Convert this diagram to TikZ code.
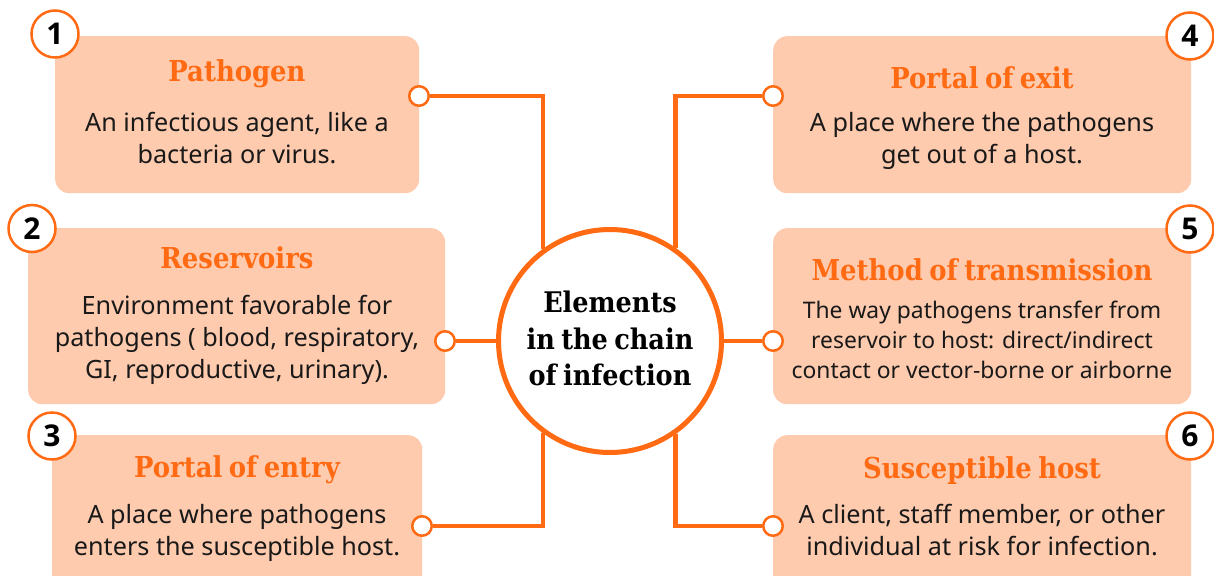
\documentclass[tikz,border=0pt]{standalone}
\usepackage{fontspec}
\setmainfont{Noto Sans}
\newfontfamily\slabfont[WordSpace=0.72]{DejaVu Serif Condensed}
\newfontfamily\numfont{Open Sans}
\definecolor{accent}{HTML}{FF6A13}
\definecolor{boxfill}{HTML}{FFCBAE}
\tikzset{
  card/.style={fill=boxfill,rounded corners=14pt,draw=none,inner sep=0pt,anchor=north west},
  head/.style={text=accent,font=\fontsize{28.8}{34}\selectfont\slabfont\bfseries,inner sep=0pt,anchor=center},
  body/.style={text=black!90,font=\fontsize{25.2}{32}\selectfont,align=center,inner sep=0pt,anchor=center},
  smallbody/.style={text=black!90,font=\fontsize{22.85}{30}\selectfont,align=center,inner sep=0pt,anchor=center},
  badge/.style={circle,draw=accent,fill=white,line width=2.5pt,minimum size=47pt,inner sep=0pt,font=\fontsize{30}{30}\selectfont\numfont\bfseries},
  port/.style={circle,draw=accent,fill=white,line width=2.5pt,minimum size=19.5pt,inner sep=0pt},
  link/.style={draw=accent,line width=4.5pt},
  hubnode/.style={circle,draw=accent,fill=white,line width=5pt,minimum size=223pt,inner sep=0pt},
  hublabel/.style={inner sep=0pt,align=center,font=\fontsize{28.4}{36.5}\selectfont\slabfont\bfseries}
}
\begin{document}
\begin{tikzpicture}[x=1pt,y=-1pt]
\useasboundingbox (0,0) rectangle (1214,575);
\clip (0,0) rectangle (1214,575);
% cards
\node[card,minimum width=364pt,minimum height=157pt] (c1) at (55,36) {};
\node[card,minimum width=417pt,minimum height=176pt] (c2) at (28,228) {};
\node[card,minimum width=370pt,minimum height=155pt] (c3) at (52,435) {};
\node[card,minimum width=418pt,minimum height=157pt] (c4) at (773,36) {};
\node[card,minimum width=418pt,minimum height=176pt] (c5) at (773,228) {};
\node[card,minimum width=418pt,minimum height=155pt] (c6) at (773,435) {};
% texts
\node[head] (t1) at (237,74) {Pathogen};
\node[body] (b1) at (237,138) {An infectious agent, like a\\bacteria or virus.};
\node[head] (t2) at (237,258) {Reservoirs};
\node[body] (b2) at (237,340) {Environment favorable for\\pathogens ( blood, respiratory,\\GI, reproductive, urinary).};
\node[head] (t3) at (237,470) {Portal of entry};
\node[body] (b3) at (237,533) {A place where pathogens\\enters the susceptible host.};
\node[head] (t4) at (982,78) {Portal of exit};
\node[body] (b4) at (982,141) {A place where the pathogens\\get out of a host.};
\node[head] (t5) at (982,270) {Method of transmission};
\node[smallbody] (b5) at (982,340) {The way pathogens transfer from\\reservoir to host: direct/indirect\\contact or vector-borne or airborne};
\node[head] (t6) at (982,471) {Susceptible host};
\node[body] (b6) at (982,530) {A client, staff member, or other\\individual at risk for infection.};
% hub and ports
\node[port] (p1) at (419,96) {};
\node[port] (p2) at (445,341) {};
\node[port] (p3) at (422,526) {};
\node[port] (p4) at (773,96) {};
\node[port] (p5) at (773,341) {};
\node[port] (p6) at (773,526) {};
\node[hubnode] (hub) at (610,341) {};
\node[hublabel] (hubtext) at (610,338.5) {Elements\\in the chain\\of infection};
% connectors
\draw[link] (p1) -| (hub.126);
\draw[link] (p2) -- (hub);
\draw[link] (p3) -| (hub.234);
\draw[link] (p4) -| (hub.55);
\draw[link] (p5) -- (hub);
\draw[link] (p6) -| (hub.305);
% badges
\node[badge] (n1) at (55,34) {1};
\node[badge] (n2) at (32,228.5) {2};
\node[badge] (n3) at (52,436) {3};
\node[badge] (n4) at (1190,36) {4};
\node[badge] (n5) at (1190,229) {5};
\node[badge] (n6) at (1190,436) {6};
\end{tikzpicture}
\end{document}
